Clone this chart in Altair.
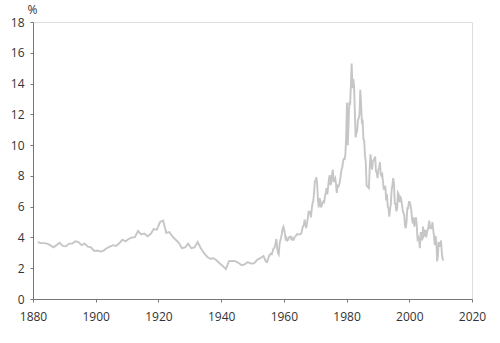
import altair as alt
import pandas as pd

# Annual long-term interest rate, 1881-1953 (%)
early_years = list(range(1881, 1954))
early_vals = [3.70, 3.63, 3.63, 3.60, 3.50, 3.36, 3.50, 3.65, 3.45, 3.42,
              3.60, 3.60, 3.75, 3.70, 3.50, 3.60, 3.40, 3.35, 3.12, 3.15,
              3.08, 3.15, 3.30, 3.40, 3.50, 3.45, 3.62, 3.85, 3.75, 3.90,
              4.00, 4.02, 4.42, 4.20, 4.25, 4.08, 4.22, 4.55, 4.50, 5.00,
              5.10, 4.30, 4.35, 4.05, 3.85, 3.65, 3.30, 3.35, 3.60, 3.30,
              3.35, 3.70, 3.30, 3.00, 2.75, 2.62, 2.65, 2.52, 2.32, 2.15,
              1.95, 2.46, 2.47, 2.46, 2.35, 2.20, 2.25, 2.40, 2.30, 2.32,
              2.55, 2.65, 2.80]

# Quarterly long-term interest rate, 1954-2010 (%), four values per year
late_years = list(range(1954, 2011))
late_vals = [
    2.50, 2.40, 2.40, 2.55,   # 1954
    2.70, 2.85, 2.90, 2.95,   # 1955
    2.90, 3.05, 3.25, 3.30,   # 1956
    3.40, 3.65, 3.90, 3.30,   # 1957
    3.00, 2.90, 3.55, 3.80,   # 1958
    4.00, 4.25, 4.60, 4.70,   # 1959
    4.45, 4.20, 3.80, 3.95,   # 1960
    3.80, 3.85, 4.00, 4.05,   # 1961
    4.05, 3.90, 3.98, 3.85,   # 1962
    3.85, 4.00, 4.05, 4.12,   # 1963
    4.20, 4.22, 4.20, 4.20,   # 1964
    4.20, 4.22, 4.30, 4.55,   # 1965
    4.75, 4.80, 5.15, 4.80,   # 1966
    4.60, 4.90, 5.25, 5.65,   # 1967
    5.60, 5.65, 5.30, 5.80,   # 1968
    6.20, 6.35, 6.90, 7.60,   # 1969
    7.75, 7.90, 7.45, 6.40,   # 1970
    5.95, 6.55, 6.40, 5.95,   # 1971
    6.10, 6.25, 6.35, 6.30,   # 1972
    6.70, 6.90, 7.20, 6.80,   # 1973
    7.30, 7.80, 8.05, 7.40,   # 1974
    7.60, 8.10, 8.40, 7.60,   # 1975
    7.75, 7.85, 7.50, 6.90,   # 1976
    7.35, 7.30, 7.40, 7.65,   # 1977
    8.00, 8.40, 8.55, 8.95,   # 1978
    9.10, 9.10, 9.40, 10.60,  # 1979
    12.75, 10.00, 11.30, 12.80,  # 1980
    12.60, 13.90, 15.30, 13.70,  # 1981
    14.30, 13.90, 12.30, 10.50,  # 1982
    10.80, 10.90, 11.65, 11.75,  # 1983
    12.00, 13.60, 12.70, 11.50,  # 1984
    11.55, 10.40, 10.30, 9.30,   # 1985
    8.90, 7.40, 7.30, 7.25,   # 1986
    7.20, 8.50, 9.40, 8.90,   # 1987
    8.40, 8.90, 9.05, 9.10,   # 1988
    9.25, 8.30, 8.20, 7.85,   # 1989
    8.40, 8.50, 8.90, 8.10,   # 1990
    8.00, 8.10, 7.60, 7.10,   # 1991
    7.30, 7.30, 6.40, 6.80,   # 1992
    6.00, 5.90, 5.35, 5.80,   # 1993
    6.20, 7.10, 7.40, 7.85,   # 1994
    7.50, 6.20, 6.20, 5.70,   # 1995
    5.90, 6.90, 6.80, 6.30,   # 1996
    6.70, 6.50, 6.20, 5.80,   # 1997
    5.60, 5.50, 4.80, 4.60,   # 1998
    5.00, 5.90, 5.90, 6.30,   # 1999
    6.30, 6.10, 5.80, 5.20,   # 2000
    4.90, 5.30, 4.70, 5.10,   # 2001
    5.30, 4.80, 3.90, 4.00,   # 2002
    3.80, 3.30, 4.30, 4.30,   # 2003
    3.80, 4.70, 4.10, 4.20,   # 2004
    4.50, 4.00, 4.30, 4.50,   # 2005
    4.70, 5.10, 4.60, 4.60,   # 2006
    4.60, 5.00, 4.50, 4.10,   # 2007
    3.50, 4.10, 3.70, 2.45,   # 2008
    2.80, 3.70, 3.40, 3.60,   # 2009
    3.80, 3.00, 2.60, 2.50,   # 2010
]

rows = [{"year": y + 0.5, "rate": v} for y, v in zip(early_years, early_vals)]
for i, y in enumerate(late_years):
    for q in range(4):
        rows.append({"year": y + (q + 0.5) / 4, "rate": late_vals[4 * i + q]})
df = pd.DataFrame(rows)

x_ticks = [1880, 1900, 1920, 1940, 1960, 1980, 2000, 2020]
y_ticks = [0, 2, 4, 6, 8, 10, 12, 14, 16, 18]

font = "Open Sans"

chart = alt.Chart(df).mark_line(color="#c6c6c6", strokeWidth=1.9).encode(
    x=alt.X("year:Q",
            scale=alt.Scale(domain=[1880, 2020], nice=False, zero=False),
            axis=alt.Axis(values=x_ticks, format="d", title=None, grid=False,
                          domainColor="#777777", tickColor="#777777", tickSize=3,
                          labelFont=font, labelFontSize=12, labelColor="#333333",
                          labelPadding=9, labelFlush=False)),
    y=alt.Y("rate:Q",
            scale=alt.Scale(domain=[0, 18], nice=False),
            axis=alt.Axis(values=y_ticks, title="%", titleAngle=0, titleX=-1, titleY=-6,
                          titleAlign="center", titleBaseline="bottom",
                          titleFont=font, titleFontSize=12, titleFontWeight="normal",
                          titleColor="#333333", grid=False,
                          domainColor="#777777", tickColor="#777777", tickSize=3,
                          labelFont=font, labelFontSize=12, labelColor="#333333",
                          labelPadding=6, labelFlush=False)),
).properties(
    width=439, height=277,
    autosize=alt.AutoSizeParams(type="none"),
    padding={"left": 33, "top": 22, "right": 28, "bottom": 44},
).configure_view(stroke=None).configure(background="white")

chart.save("out.html", embed_options={"renderer": "svg", "actions": False})
